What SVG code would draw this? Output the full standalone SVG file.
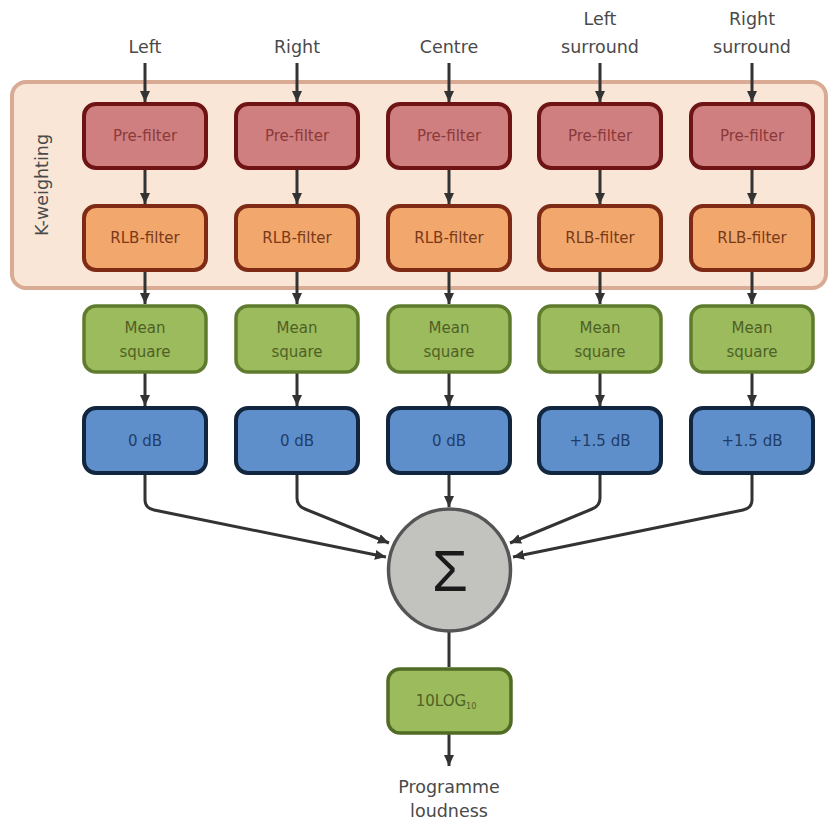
<svg xmlns="http://www.w3.org/2000/svg" width="828" height="823" viewBox="0 0 828 823">
<defs>
<style>
.lbl{font-family:"DejaVu Sans","Liberation Sans",sans-serif;font-size:17.5px;fill:#4a4a4a;text-anchor:middle}
.bt{font-family:"DejaVu Sans","Liberation Sans",sans-serif;font-size:15px;text-anchor:middle}
.pre rect{fill:#d07f80;stroke:#6e1414;stroke-width:4}
.pre text{fill:#8a3a3a}
.rlb rect{fill:#f2a76c;stroke:#7e2a14;stroke-width:4}
.rlb text{fill:#7a3a18}
.ms rect{fill:#9cbb5c;stroke:#5f7c2e;stroke-width:3.5}
.ms text{fill:#4e6126}
.db rect{fill:#5f8fcb;stroke:#13263f;stroke-width:4}
.db text{fill:#1f3d66}
.c{fill:none;stroke:#333;stroke-width:3;stroke-linejoin:round}
</style>
<marker id="ah" markerUnits="userSpaceOnUse" markerWidth="12" markerHeight="12" viewBox="0 0 12 12" refX="11" refY="6" orient="auto">
<path d="M0,1 L11,6 L0,11 z" fill="#333"/>
</marker>
</defs>
<rect width="828" height="823" fill="#ffffff"/>
<g id="kweighting">
<rect x="12" y="82" width="814" height="206" rx="14" fill="#f9e6d6" stroke="#d9ab95" stroke-width="4"/>
<text class="lbl" transform="translate(48,185) rotate(-90)" font-size="16.5">K-weighting</text>
</g>
<g id="labels">
<text class="lbl" x="145" y="53">Left</text>
<text class="lbl" x="297" y="53">Right</text>
<text class="lbl" x="449" y="53">Centre</text>
<text class="lbl" x="600" y="25">Left</text>
<text class="lbl" x="600" y="53">surround</text>
<text class="lbl" x="752" y="25">Right</text>
<text class="lbl" x="752" y="53">surround</text>
</g>
<g id="connectors">
<path class="c" marker-end="url(#ah)" d="M145,63 V102"/>
<path class="c" marker-end="url(#ah)" d="M297,63 V102"/>
<path class="c" marker-end="url(#ah)" d="M449,63 V102"/>
<path class="c" marker-end="url(#ah)" d="M600,63 V102"/>
<path class="c" marker-end="url(#ah)" d="M752,63 V102"/>
<path class="c" marker-end="url(#ah)" d="M145,169 V204"/>
<path class="c" marker-end="url(#ah)" d="M297,169 V204"/>
<path class="c" marker-end="url(#ah)" d="M449,169 V204"/>
<path class="c" marker-end="url(#ah)" d="M600,169 V204"/>
<path class="c" marker-end="url(#ah)" d="M752,169 V204"/>
<path class="c" marker-end="url(#ah)" d="M145,271 V304"/>
<path class="c" marker-end="url(#ah)" d="M297,271 V304"/>
<path class="c" marker-end="url(#ah)" d="M449,271 V304"/>
<path class="c" marker-end="url(#ah)" d="M600,271 V304"/>
<path class="c" marker-end="url(#ah)" d="M752,271 V304"/>
<path class="c" marker-end="url(#ah)" d="M145,373 V406"/>
<path class="c" marker-end="url(#ah)" d="M297,373 V406"/>
<path class="c" marker-end="url(#ah)" d="M449,373 V406"/>
<path class="c" marker-end="url(#ah)" d="M600,373 V406"/>
<path class="c" marker-end="url(#ah)" d="M752,373 V406"/>
<path class="c" marker-end="url(#ah)" d="M145,474 V500 Q145,508 154,510 L386,557"/>
<path class="c" marker-end="url(#ah)" d="M297,474 V498 Q297,506 305,509 L389,543"/>
<path class="c" marker-end="url(#ah)" d="M449,474 V507"/>
<path class="c" marker-end="url(#ah)" d="M600,474 V498 Q600,506 592,509 L510,543"/>
<path class="c" marker-end="url(#ah)" d="M752,474 V500 Q752,508 743,510 L513,557"/>
<path class="c" d="M449,632 V667"/>
<path class="c" marker-end="url(#ah)" d="M449,734 V766"/>
</g>
<g id="pre-left" class="pre"><rect x="84" y="104" width="122" height="64" rx="12"/><text class="bt" x="145" y="141">Pre-filter</text></g>
<g id="pre-right" class="pre"><rect x="236" y="104" width="122" height="64" rx="12"/><text class="bt" x="297" y="141">Pre-filter</text></g>
<g id="pre-centre" class="pre"><rect x="388" y="104" width="122" height="64" rx="12"/><text class="bt" x="449" y="141">Pre-filter</text></g>
<g id="pre-ls" class="pre"><rect x="539" y="104" width="122" height="64" rx="12"/><text class="bt" x="600" y="141">Pre-filter</text></g>
<g id="pre-rs" class="pre"><rect x="691" y="104" width="122" height="64" rx="12"/><text class="bt" x="752" y="141">Pre-filter</text></g>
<g id="rlb-left" class="rlb"><rect x="84" y="206" width="122" height="64" rx="12"/><text class="bt" x="145" y="243">RLB-filter</text></g>
<g id="rlb-right" class="rlb"><rect x="236" y="206" width="122" height="64" rx="12"/><text class="bt" x="297" y="243">RLB-filter</text></g>
<g id="rlb-centre" class="rlb"><rect x="388" y="206" width="122" height="64" rx="12"/><text class="bt" x="449" y="243">RLB-filter</text></g>
<g id="rlb-ls" class="rlb"><rect x="539" y="206" width="122" height="64" rx="12"/><text class="bt" x="600" y="243">RLB-filter</text></g>
<g id="rlb-rs" class="rlb"><rect x="691" y="206" width="122" height="64" rx="12"/><text class="bt" x="752" y="243">RLB-filter</text></g>
<g id="ms-left" class="ms"><rect x="84" y="306" width="122" height="66" rx="12"/><text class="bt" x="145" y="333">Mean</text><text class="bt" x="145" y="357">square</text></g>
<g id="ms-right" class="ms"><rect x="236" y="306" width="122" height="66" rx="12"/><text class="bt" x="297" y="333">Mean</text><text class="bt" x="297" y="357">square</text></g>
<g id="ms-centre" class="ms"><rect x="388" y="306" width="122" height="66" rx="12"/><text class="bt" x="449" y="333">Mean</text><text class="bt" x="449" y="357">square</text></g>
<g id="ms-ls" class="ms"><rect x="539" y="306" width="122" height="66" rx="12"/><text class="bt" x="600" y="333">Mean</text><text class="bt" x="600" y="357">square</text></g>
<g id="ms-rs" class="ms"><rect x="691" y="306" width="122" height="66" rx="12"/><text class="bt" x="752" y="333">Mean</text><text class="bt" x="752" y="357">square</text></g>
<g id="db-left" class="db"><rect x="84" y="408" width="122" height="65" rx="12"/><text class="bt" x="145" y="446">0 dB</text></g>
<g id="db-right" class="db"><rect x="236" y="408" width="122" height="65" rx="12"/><text class="bt" x="297" y="446">0 dB</text></g>
<g id="db-centre" class="db"><rect x="388" y="408" width="122" height="65" rx="12"/><text class="bt" x="449" y="446">0 dB</text></g>
<g id="db-ls" class="db"><rect x="539" y="408" width="122" height="65" rx="12"/><text class="bt" x="600" y="446">+1.5 dB</text></g>
<g id="db-rs" class="db"><rect x="691" y="408" width="122" height="65" rx="12"/><text class="bt" x="752" y="446">+1.5 dB</text></g>
<g id="sum">
<circle cx="449.5" cy="570" r="61" fill="#c2c2bf" stroke="#555" stroke-width="3.5"/>
<text x="450" y="591" font-family="'Liberation Sans',sans-serif" font-size="58" fill="#1a1a1a" text-anchor="middle">Σ</text>
</g>
<g id="log" class="ms">
<rect x="388" y="669" width="123" height="64" rx="12" style="stroke:#4f6b24"/>
<text class="bt" x="446" y="706" font-size="14">10LOG<tspan font-size="8" dy="3">10</tspan></text>
</g>
<g id="output">
<text class="lbl" x="449" y="793">Programme</text>
<text class="lbl" x="449" y="817">loudness</text>
</g>
</svg>
